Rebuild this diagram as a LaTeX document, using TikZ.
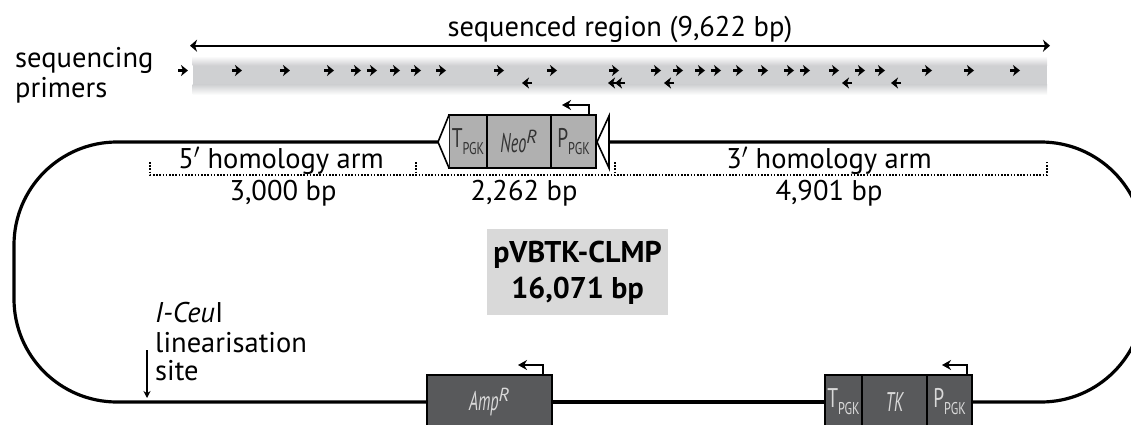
\documentclass[tikz,border=0pt]{standalone}
\usepackage{fontspec}
\setmainfont{PT Sans}
\newfontfamily\narrowfont[FakeStretch=0.72]{PT Sans}
\newfontfamily\genefont[FakeStretch=0.6]{PT Sans}
\usetikzlibrary{arrows.meta,positioning}
\definecolor{bandgray}{RGB}{207,208,210}
\definecolor{cassette}{RGB}{176,176,176}
\definecolor{darkbox}{RGB}{88,89,91}
\definecolor{labelgray}{RGB}{217,217,217}
\newcommand{\pgksub}{\raisebox{-7pt}{\fontsize{17}{17}\selectfont PGK}}
\newcommand{\genelabel}[1]{{\genefont\itshape #1}}

\begin{document}
\begin{tikzpicture}[
  x=1pt,y=-1pt,
  label/.style={font=\fontsize{28.5}{32}\selectfont,inner sep=0pt,anchor=base},
  leftlabel/.style={label,anchor=base west},
  titlelabel/.style={label,font=\fontsize{30}{34}\selectfont\bfseries},
  part/.style={rectangle,draw=black,line width=1.6pt,minimum height=53pt,inner sep=0pt,outer sep=0pt,font=\narrowfont\fontsize{27}{30}\selectfont},
  lightpart/.style={part,fill=cassette,text=black!80},
  darkpart/.style={part,fill=darkbox,text=labelgray},
  backbone/.style={line width=3.2pt},
  lox/.style={line width=1.6pt,fill=white,line join=miter},
  promoter/.style={line width=1.4pt,-{Stealth[length=9pt,width=10pt]}},
  primer/.style={line width=2.8pt,-{Stealth[length=7pt,width=11pt,inset=2pt]}},
  armline/.style={line width=1.5pt,dash pattern=on 1.6pt off 1.6pt},
  span/.style={line width=2pt,{Stealth[length=7pt,width=12pt,inset=2pt]}-{Stealth[length=7pt,width=12pt,inset=2pt]}},
]
\useasboundingbox (0,0) rectangle (1131,425);
\clip (0,0) rectangle (1131,425);

\fill[bandgray] (192.5,65) rectangle (1047,85);
\shade[top color=white,bottom color=bandgray] (192.5,56) rectangle (1047,65.5);
\shade[top color=bandgray,bottom color=white] (192.5,84.5) rectangle (1047,95);

\coordinate (spanL) at (190,45.7);
\coordinate (spanR) at (1050,45.7);
\draw[span] (spanL) -- (spanR);
\node[label] (seqregion) at (620,37) {sequenced region (9,622 bp)};
\node[leftlabel] (seqprimers) at (15,68) {sequencing};
\node[leftlabel] (seqprimers2) at (15,98) {primers};

\foreach \px in {183,237,285,329,356,372,395,416,441,499,552,614,656,678,700,716,738,763,789,805,834,860,880,927,969,1015}
  \draw[primer] (\px-5,70.5) -- ++(10,0);
\foreach \px in {527,613,620,669,847,896}
  \draw[primer] (\px+5,83) -- ++(-10,0);

\node[lightpart,minimum width=38pt] (neoT) at (468,141.5) {T\pgksub};
\node[lightpart,minimum width=64pt] (neoGene) at (519,141.5) {\genelabel{Neo$^{\mathit{R}}$}};
\node[lightpart,minimum width=45pt] (neoP) at (573.5,141.5) {P\pgksub};

\node[darkpart,minimum width=125pt,minimum height=54pt] (amp) at (489.5,402) {\genelabel{Amp$^{\mathit{R}}$}};
\node[darkpart,minimum width=37pt,minimum height=54pt] (tkT) at (843.5,402) {T\pgksub};
\node[darkpart,minimum width=65pt,minimum height=54pt] (tkGene) at (894.5,402) {\genelabel{TK}};
\node[darkpart,minimum width=45pt,minimum height=54pt] (tkP) at (949.5,402) {P\pgksub};

\coordinate (loxL) at (438,142);
\coordinate (loxR) at (597,142);
\draw[backbone,rounded corners=103pt] (loxL) -- (14,142) -- (14,402) -- (amp.west);
\draw[backbone] (amp.east) -- (tkT.west);
\draw[backbone,rounded corners=103pt] (tkP.east) -- (1144,402) -- (1144,142) -- (loxR);
\draw[lox] (neoT.north west) -- (loxL) -- (neoT.south west);
\draw[lox] (609,116) -- (loxR) -- (609,168) -- cycle;

\draw[promoter] ([xshift=-7pt]neoP.north east) -- ++(0,-10) -- ++(-27,0);
\draw[promoter] ([xshift=-9pt]amp.north east) -- ++(0,-10) -- ++(-25,0);
\draw[promoter] ([xshift=-5pt]tkP.north east) -- ++(0,-10) -- ++(-25,0);

\draw[armline] (150,162) -- (150,175) -- (1047,175) -- (1047,162);
\foreach \tx in {416,615}
  \draw[armline] (\tx,162) -- (\tx,175);

\node[label] (arm5) at (281,168) {5$'$ homology arm};
\node[label] (arm3) at (829,168) {3$'$ homology arm};
\node[label] (len5) at (283,200) {3,000 bp};
\node[label] (lenneo) at (524,200) {2,262 bp};
\node[label] (len3) at (829,200) {4,901 bp};

\node[rectangle,fill=labelgray,minimum width=181pt,minimum height=86pt,inner sep=0pt] (namebox) at (577.5,272) {};
\node[titlelabel] (plasmid) at (577.5,262) {pVBTK-CLMP};
\node[titlelabel] (plasmidlen) at (577.5,298) {16,071 bp};

\node[leftlabel] (ceu) at (155,322) {\textit{I-Ceu}I};
\node[leftlabel] (linear) at (155,352) {linearisation};
\node[leftlabel] (site) at (155,380) {site};
\coordinate (siteTop) at (147,350);
\coordinate (siteEnd) at (147,398);
\draw[line width=1.2pt,-{Stealth[length=7pt,width=7pt]}] (siteTop) -- (siteEnd);
\end{tikzpicture}
\end{document}
